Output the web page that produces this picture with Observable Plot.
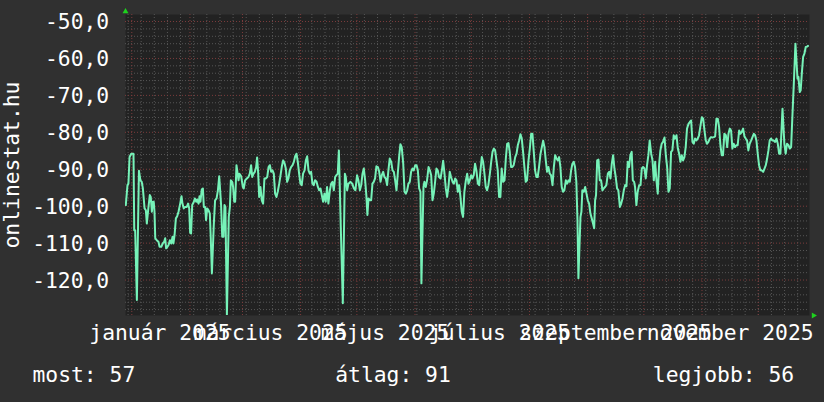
<!DOCTYPE html>
<html><head><meta charset="utf-8">
<script src="https://cdn.jsdelivr.net/npm/d3@7"></script>
<script src="https://cdn.jsdelivr.net/npm/@observablehq/plot@0.6"></script>
<style>
html,body{margin:0;padding:0;background:#303030;overflow:hidden;}
</style></head><body><div id="chart"></div>
<script>
// [days since 2025-01-01, value]
const part1 = [[-3.2,-99.7],[-2.3,-94.3],[-1.8,-93.9],[-1.2,-86.7],[-0.3,-85.8],[0.9,-85.8],[1.3,-106.5],[1.8,-106.5],[2.7,-125.4],[3.8,-90.4],[4.6,-93.0],[5.3,-93.4],[5.9,-95.2],[6.8,-100.6],[7.5,-101.1],[8.0,-104.7],[8.9,-100.2],[9.6,-97.0],[10.1,-97.5],[10.7,-101.5],[11.2,-98.8],[11.7,-98.8],[12.1,-101.5],[12.5,-108.7],[13.3,-109.2],[14.2,-109.6],[14.8,-111.0],[15.7,-111.0],[16.5,-110.1],[17.3,-109.6],[17.8,-108.7],[18.3,-111.4],[19.0,-111.0],[19.6,-110.5],[20.3,-109.2],[21.0,-110.1],[21.7,-108.3],[22.2,-110.1],[22.8,-107.8],[23.5,-103.3],[24.2,-102.7],[24.9,-101.5],[25.8,-99.3],[26.5,-97.3],[27.0,-99.3],[27.7,-100.6],[28.4,-100.2],[29.3,-100.2],[30.0,-99.3],[30.6,-100.6],[31.1,-107.2],[31.6,-107.4],[32.2,-99.7],[33.1,-98.8],[33.6,-97.9],[34.3,-98.8],[34.8,-98.2],[35.6,-99.3],[36.1,-97.3],[36.6,-98.8],[37.3,-95.5],[37.9,-95.2],[38.4,-100.2],[39.1,-100.2],[39.6,-103.8],[40.2,-100.6],[40.9,-101.1],[41.6,-102.0],[42.1,-108.7],[42.7,-118.2],[43.7,-105.1],[44.4,-98.4],[45.2,-97.9],[45.9,-95.7],[46.6,-91.9],[47.1,-95.7],[47.6,-99.7],[48.2,-108.3],[48.9,-108.3],[49.4,-99.7],[49.9,-100.2],[50.7,-129.5],[51.7,-102.9],[52.3,-100.2],[52.8,-93.0],[53.5,-93.4],[54.0,-94.8],[54.6,-98.8],[55.1,-98.8],[55.8,-88.9]];
const part2 = [[56.9,-93.0],[57.4,-91.2],[58.3,-91.9],[59.2,-94.8],[59.7,-95.2],[60.4,-93.0],[61.3,-92.5],[62.2,-92.1],[62.9,-91.2],[63.6,-88.9],[64.2,-92.1],[64.9,-91.2],[65.6,-90.7],[66.3,-89.4],[66.8,-86.8],[67.4,-91.2],[67.9,-97.5],[68.6,-94.8],[69.3,-98.4],[70.0,-99.3],[70.7,-92.5],[71.4,-92.5],[72.2,-92.1],[72.9,-89.4],[73.6,-88.9],[74.3,-90.7],[75.0,-90.3],[75.7,-91.2],[76.4,-96.6],[77.1,-97.5],[77.8,-96.1],[78.6,-93.9],[79.3,-91.6],[80.0,-89.2],[80.7,-87.6],[81.4,-88.3],[82.1,-89.8],[82.8,-93.4],[83.5,-92.5],[84.2,-90.3],[84.9,-89.4],[85.7,-88.9],[86.4,-88.0],[87.1,-86.5],[87.8,-85.8],[88.5,-88.0],[89.2,-91.2],[89.9,-93.9],[90.6,-94.3],[91.3,-91.2],[92.1,-90.3],[92.8,-87.6],[93.5,-86.5],[94.2,-90.3],[94.9,-91.2],[95.6,-90.7],[96.3,-93.9],[97.0,-94.3],[97.7,-93.0],[98.5,-93.4],[99.2,-94.8],[99.9,-95.7],[100.6,-95.2],[101.3,-97.0],[102.0,-98.8],[102.7,-96.6],[103.4,-98.8],[104.1,-94.8],[104.8,-99.3],[105.6,-95.7],[106.3,-93.9],[107.0,-93.4],[107.7,-95.7],[108.4,-92.1],[109.1,-91.6],[109.8,-91.2],[110.4,-84.9],[111.4,-105.4],[112.5,-126.3],[113.6,-91.2],[114.1,-92.1],[114.8,-95.7],[115.5,-93.9]];
const part3 = [[116.6,-93.4],[117.5,-93.9],[118.4,-95.2],[119.2,-95.7],[120.1,-91.6],[120.8,-93.0],[121.6,-95.7],[122.3,-94.3],[123.0,-91.2],[123.7,-89.8],[124.4,-93.0],[125.1,-97.5],[125.6,-102.4],[126.2,-97.9],[126.9,-98.4],[127.6,-98.4],[128.3,-93.9],[129.0,-93.4],[129.7,-92.5],[130.4,-89.2],[131.2,-89.4],[131.9,-90.7],[132.6,-93.4],[133.3,-91.6],[134.0,-90.7],[134.7,-92.1],[135.4,-92.5],[136.1,-94.3],[136.8,-90.3],[137.5,-87.1],[138.3,-88.0],[139.0,-90.3],[139.7,-90.7],[140.4,-93.0],[141.1,-95.7],[141.8,-91.2],[142.5,-86.7],[143.2,-83.2],[143.9,-84.0],[144.7,-88.5],[145.4,-96.1],[146.1,-96.6],[146.8,-95.7],[147.5,-93.9],[148.2,-93.4],[148.9,-90.7],[149.6,-89.8],[150.3,-90.3],[151.1,-88.9],[151.8,-88.9],[152.5,-90.3],[153.2,-95.2],[153.9,-96.1],[154.4,-120.9],[155.5,-94.8],[156.0,-93.4],[156.7,-94.8],[157.4,-93.0],[158.2,-89.4],[158.9,-90.3],[159.6,-91.6],[160.3,-98.4],[161.0,-96.6],[161.7,-93.4],[162.4,-89.8],[163.1,-90.3],[163.8,-92.1],[164.6,-92.5],[165.3,-90.3],[166.0,-87.7],[166.7,-91.2],[167.4,-95.2],[168.1,-97.5],[168.8,-94.8],[169.5,-90.7],[170.2,-92.1],[171.0,-93.4],[171.7,-93.9],[172.4,-92.5],[173.1,-93.0],[173.8,-96.1],[174.5,-94.3],[175.2,-97.5],[175.9,-101.5],[176.6,-102.9],[177.3,-96.1],[178.1,-93.0],[178.8,-91.2],[179.5,-93.9]];
const part4 = [[180.2,-93.0],[180.9,-91.6],[181.6,-92.5],[182.3,-91.6],[183.0,-88.5],[183.7,-90.3],[184.5,-93.9],[185.2,-94.3],[185.9,-90.3],[186.6,-86.7],[187.3,-88.0],[188.0,-91.2],[188.7,-94.8],[189.4,-95.7],[190.1,-94.3],[190.9,-91.2],[191.6,-88.0],[192.3,-85.3],[193.0,-84.4],[193.7,-84.9],[194.4,-87.6],[195.1,-90.3],[195.8,-97.5],[196.5,-97.5],[197.2,-89.8],[198.0,-93.4],[198.7,-93.0],[199.4,-87.1],[200.1,-83.1],[200.8,-82.9],[201.5,-85.3],[202.2,-89.4],[202.9,-89.4],[203.6,-88.9],[204.4,-86.7],[205.1,-85.8],[205.8,-83.5],[206.5,-82.2],[207.2,-80.5],[207.9,-81.7],[208.6,-85.3],[209.3,-89.4],[210.0,-93.4],[210.7,-93.0],[211.5,-87.6],[212.2,-84.4],[212.9,-80.4],[213.6,-80.4],[214.3,-85.3],[215.0,-90.3],[215.7,-92.1],[216.4,-92.1],[217.1,-89.4],[217.9,-85.8],[218.6,-84.0],[219.3,-82.3],[220.0,-84.0],[220.7,-87.6],[221.4,-90.7],[222.1,-89.4],[222.8,-91.2],[223.5,-91.6],[224.3,-94.3],[225.0,-89.4],[225.7,-86.2],[226.4,-87.1],[227.1,-87.6],[227.8,-86.7],[228.5,-89.4],[229.2,-94.8],[229.9,-96.1],[230.6,-95.7],[231.4,-93.0],[232.1,-93.9],[232.8,-93.0],[233.5,-93.4],[234.2,-90.3],[234.9,-88.5],[235.6,-88.0],[236.3,-89.4],[237.0,-93.4],[237.6,-103.8],[238.1,-119.5],[239.2,-102.9],[239.7,-101.5],[240.2,-95.7]];
const part5 = [[241.0,-96.1],[241.7,-94.8],[242.4,-96.6],[243.1,-98.4],[243.8,-99.3],[244.5,-102.0],[245.2,-103.3],[245.9,-104.7],[246.5,-106.0],[247.0,-98.4],[247.5,-97.0],[248.1,-87.6],[248.8,-87.4],[249.5,-93.0],[250.2,-93.0],[250.9,-95.7],[251.6,-95.2],[252.3,-94.8],[253.0,-94.3],[253.8,-91.2],[254.5,-90.7],[255.2,-92.5],[255.9,-88.5],[256.6,-86.2],[257.3,-89.8],[258.0,-92.1],[258.7,-95.2],[259.4,-95.7],[260.2,-100.2],[260.9,-99.3],[261.6,-97.9],[262.3,-95.7],[263.0,-94.3],[263.7,-94.6],[264.4,-88.0],[265.1,-89.4],[265.8,-86.2],[266.5,-85.3],[267.1,-93.0],[267.8,-93.4],[268.3,-94.8],[269.0,-99.7],[269.7,-96.1],[270.5,-94.3],[271.2,-94.3],[271.9,-89.8],[272.6,-89.4],[273.3,-89.8],[274.0,-92.5],[274.7,-88.9],[275.4,-86.2],[276.1,-82.2],[276.9,-85.8],[277.6,-87.6],[278.3,-93.0],[279.0,-88.0],[279.7,-93.0],[280.4,-96.6],[281.1,-88.9],[281.8,-84.9],[282.5,-83.1],[283.2,-82.6],[284.0,-81.4],[284.7,-86.2],[285.4,-89.4],[286.1,-96.1],[286.8,-95.2],[287.5,-85.3],[288.2,-84.9],[288.9,-80.8],[289.6,-81.7],[290.4,-80.8],[291.1,-84.4],[291.8,-85.8],[292.5,-88.0],[293.2,-86.2],[293.9,-87.6],[294.6,-86.7],[295.3,-84.0],[296.0,-79.0],[296.8,-77.7],[297.5,-77.2],[298.2,-76.8],[298.9,-82.6],[299.6,-83.1],[300.3,-81.7],[301.0,-82.2],[301.7,-81.7],[302.4,-80.8],[303.2,-78.1],[303.9,-75.9]];
const part6 = [[304.6,-76.3],[305.3,-79.5],[306.0,-82.2],[306.7,-83.1],[307.4,-82.6],[308.1,-81.7],[308.8,-81.3],[309.5,-81.4],[310.3,-81.3],[311.0,-81.1],[311.7,-76.3],[312.4,-76.3],[313.1,-78.6],[313.8,-83.5],[314.5,-86.2],[315.2,-86.2],[315.9,-80.4],[316.7,-80.8],[317.4,-84.0],[318.1,-80.4],[318.8,-79.0],[319.5,-79.5],[320.2,-84.4],[320.9,-83.1],[321.6,-84.0],[322.3,-83.5],[323.0,-83.5],[323.8,-79.5],[324.5,-80.4],[325.2,-79.9],[325.9,-79.0],[326.6,-81.1],[327.3,-81.7],[328.0,-82.2],[328.7,-84.9],[329.4,-83.1],[330.2,-82.2],[330.9,-81.3],[331.6,-80.4],[332.3,-80.8],[333.0,-82.2],[333.7,-85.8],[334.4,-88.9],[335.1,-90.3],[335.8,-90.3],[336.6,-90.7],[337.3,-89.8],[338.0,-88.9],[338.7,-87.1],[339.4,-84.9],[340.1,-82.2],[340.8,-81.7],[341.5,-82.2],[342.2,-82.2],[343.0,-82.6],[343.7,-81.7],[344.4,-83.1],[345.1,-85.8],[345.8,-85.8],[346.9,-73.6],[347.9,-83.1],[348.6,-85.8],[349.3,-83.1],[350.1,-83.5],[350.8,-84.4],[351.5,-84.0],[352.2,-75.4],[352.9,-67.3],[353.8,-56.0],[354.9,-65.5],[355.4,-65.0],[356.1,-69.1],[356.6,-68.6],[357.2,-64.1],[357.9,-59.6],[358.6,-58.7],[359.3,-56.9],[360.0,-56.8],[360.5,-56.6]];

const yTicks = [-50, -60, -70, -80, -90, -100, -110, -120];
const xLabelMonths = [0, 2, 4, 6, 8, 10];
const xLabels = ["január 2025", "március 2025", "május 2025", "július 2025", "szeptember 2025", "november 2025"];
const legendTexts = ["most: 57", "átlag: 91", "legjobb: 56"];
const yTitle = "onlinestat.hu";

const DAY = 864e5, t0 = Date.UTC(2025, 0, 1);
const data = [...part1, ...part2, ...part3, ...part4, ...part5, ...part6]
  .map(([d, v]) => ({date: new Date(t0 + d * DAY), value: v}));
const xDom = [new Date(t0 - 3.36 * DAY), new Date(t0 + 361.3 * DAY)];
const yDom = [-129.6, -48.1];

// label positions: month start + 15 days (rrdtool centres labels at half precision)
const labelDates = xLabelMonths.map(m => new Date(Date.UTC(2025, m, 16)));
const labelMap = new Map(labelDates.map((d, i) => [+d, xLabels[i]]));

const minorY = d3.range(-128, -48, 2).filter(v => v % 10 !== 0);
const majorY = d3.range(-120, -49, 10);
const minorX = d3.utcMonday.range(xDom[0], xDom[1]);
const majorX = d3.utcMonth.range(xDom[0], xDom[1]);

const font = "'DejaVu Sans Mono', monospace";
const FS = 21.33;
const minorCol = "#565656", majorCol = "#7c3c3c";

const chart = Plot.plot({
  width: 824, height: 402,
  marginLeft: 125, marginRight: 15, marginTop: 14, marginBottom: 87,
  style: {background: "#303030", color: "#ffffff", fontFamily: font, fontSize: FS + "px"},
  x: {type: "utc", domain: xDom, label: null},
  y: {domain: yDom, label: null},
  marks: [
    Plot.frame({fill: "#222222", stroke: "none"}),
    Plot.gridY(minorY, {stroke: minorCol, strokeOpacity: 1, strokeDasharray: "1,2"}),
    Plot.gridX(minorX, {stroke: minorCol, strokeOpacity: 1, strokeDasharray: "1,2"}),
    Plot.gridY(majorY, {stroke: majorCol, strokeOpacity: 1, strokeDasharray: "1,2"}),
    Plot.gridX(majorX, {stroke: majorCol, strokeOpacity: 1, strokeDasharray: "1,2"}),
    Plot.line(data, {x: "date", y: "value", stroke: "#76f2b8", strokeWidth: 2, clip: true}),
    Plot.axisY(yTicks, {label: null, tickSize: 0, tickPadding: 16.3, dy: 1, fill: "#fff",
      tickFormat: d => d.toFixed(1).replace(".", ",")}),
    Plot.axisX(labelDates, {label: null, tickSize: 0, tickPadding: 9, fill: "#fff",
      tickFormat: d => labelMap.get(+d)}),
    Plot.dot([0], {x: () => xDom[0], y: () => yDom[1], dy: -3, symbol: "triangle", r: 2.2, fill: "#1ed21e", stroke: "none"}),
    Plot.dot([0], {x: () => xDom[1], y: () => yDom[0], dx: 4, symbol: "triangle", rotate: 90, r: 2.2, fill: "#1ed21e", stroke: "none"}),
    Plot.text([yTitle], {text: d => d, frameAnchor: "left", dx: -113, rotate: -90, textAnchor: "middle", lineAnchor: "middle", fill: "#fff"}),
    Plot.text([legendTexts[0]], {text: d => d, frameAnchor: "bottom-left", dx: -93, dy: 59.2, textAnchor: "start", lineAnchor: "middle", fill: "#fff"}),
    Plot.text([legendTexts[1]], {text: d => d, frameAnchor: "bottom-left", dx: 209.7, dy: 59.2, textAnchor: "start", lineAnchor: "middle", fill: "#fff"}),
    Plot.text([legendTexts[2]], {text: d => d, frameAnchor: "bottom-left", dx: 668.6, dy: 59.2, textAnchor: "end", lineAnchor: "middle", fill: "#fff"})
  ]
});
document.getElementById("chart").appendChild(chart);
</script></body></html>
